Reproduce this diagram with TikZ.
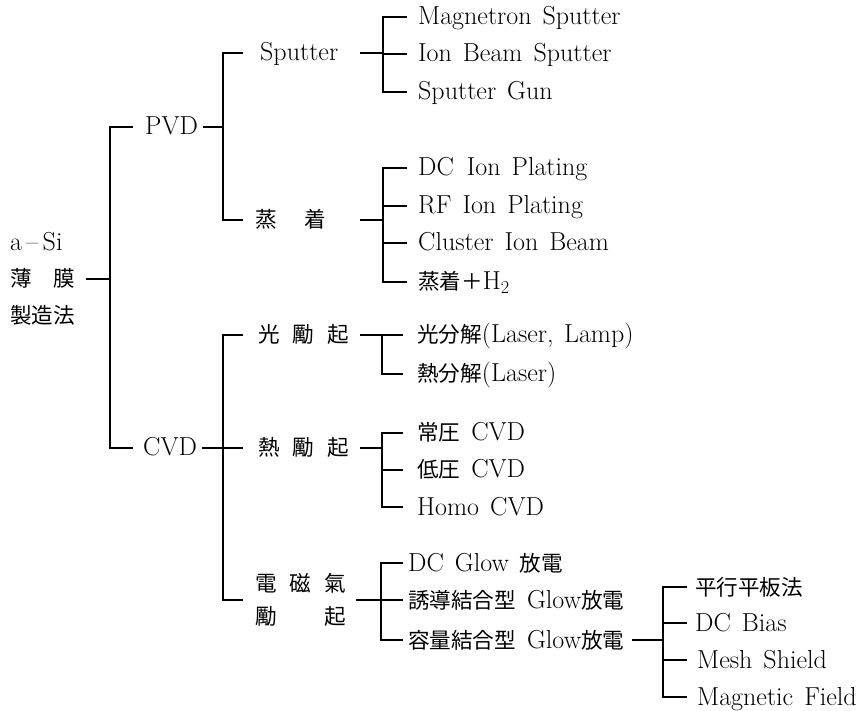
\documentclass[tikz,border=0pt]{standalone}
\usepackage{fontspec}
\newfontfamily\cjkfont{Noto Sans CJK JP}[Scale=0.83]
\newcommand\jp[1]{{\cjkfont #1}}
\newcommand\lblfont{\fontsize{26}{30}\selectfont\spaceskip=11pt\relax}
\begin{document}
\begin{tikzpicture}[x=1pt,y=-1pt,
  lbl/.style={anchor=west,inner sep=0pt,font=\lblfont,text height=16pt,text depth=0pt},
  conn/.style={line width=1.4pt}]
\useasboundingbox (0,0) rectangle (863,711);

% root
\node[lbl] (r1) at (10,243) {a\,\textendash\,Si};
\node[lbl] (r2) at (10,279) {\jp{薄\hspace{1em}膜}};
\node[lbl] (r3) at (10,316) {\jp{製造法}};
\coordinate (t) at (110,0);
\draw[conn] ([xshift=11pt]r2.east) -- (r2.east -| t);

\node[lbl] (pvd) at (145,127) {PVD};
\node[lbl] (cvd) at (143,448) {CVD};
\draw[conn] ([xshift=-12pt]pvd.west) -- (pvd.west -| t) -- (cvd.west -| t) -- ([xshift=-10pt]cvd.west);

% PVD branch
\coordinate (jp) at (223,0);
\node[lbl] (sp) at (260,53) {Sputter};
\node[lbl] (ev) at (255,220) {\jp{蒸\hspace{1.3em}着}};
\draw[conn] ([xshift=5pt]pvd.east) -- (pvd.east -| jp);
\draw[conn] ([xshift=-17pt]sp.west) -- (sp.west -| jp) -- (ev.west -| jp) -- ([xshift=-12pt]ev.west);

% Sputter
\coordinate (js) at (383,0);
\coordinate (ss) at (360,0);
\node[lbl] (ms) at (418,17) {Magnetron Sputter};
\node[lbl] (ib) at (418,54) {Ion Beam Sputter};
\node[lbl] (sg) at (418,92) {Sputter Gun};
\draw[conn] (sp.east -| ss) -- (sp.east -| js);
\draw[conn] ([xshift=-11pt]ms.west) -- (ms.west -| js) -- (sg.west -| js) -- ([xshift=-11pt]sg.west);
\draw[conn] (ib.west -| js) -- ([xshift=-11pt]ib.west);

% evaporation
\node[lbl] (dc) at (418,168) {DC\hspace{0.5em}Ion Plating};
\node[lbl] (rf) at (418,206) {RF Ion Plating};
\node[lbl] (cl) at (418,243) {Cluster Ion Beam};
\node[lbl] (eh) at (418,282) {\jp{蒸着＋}H\textsubscript{2}};
\draw[conn] (ev.east -| ss) -- (ev.east -| js);
\draw[conn] ([xshift=-11pt]dc.west) -- (dc.west -| js) -- (eh.west -| js) -- ([xshift=-11pt]eh.west);
\draw[conn] (rf.west -| js) -- ([xshift=-11pt]rf.west);
\draw[conn] (cl.west -| js) -- ([xshift=-11pt]cl.west);

% CVD branch
\node[lbl] (ko) at (258,335) {\jp{光\hspace{0.6em}勵\hspace{0.6em}起}};
\node[lbl] (th) at (258,448) {\jp{熱\hspace{0.6em}勵\hspace{0.6em}起}};
\node[anchor=west,inner sep=0pt,align=left,font=\fontsize{26}{33}\selectfont] (em) at (255,600)
  {\jp{電\hspace{0.6em}磁\hspace{0.6em}氣}\\\jp{勵\hspace{2.2em}起}};
\draw[conn] ([xshift=5pt]cvd.east) -- ([xshift=-15pt]th.west);
\draw[conn] ([xshift=-15pt]ko.west) -- (ko.west -| jp) -- (em.west -| jp) -- ([xshift=-12pt]em.west);

% photo excitation
\coordinate (jk) at (382,0);
\node[lbl] (k1) at (417,335) {\jp{光分解}(Laser,\hspace{0.4em}Lamp)};
\node[lbl] (k2) at (417,374) {\jp{熱分解}(Laser)};
\draw[conn] ([xshift=11pt]ko.east) -- (ko.east -| jk) -- (k2.west -| jk) -- ([xshift=-14pt]k2.west);
\draw[conn] (ko.east -| jk) -- ([xshift=-14pt]k1.west);

% thermal excitation
\node[lbl] (t1) at (417,433) {\jp{常圧} CVD};
\node[lbl] (t2) at (417,470) {\jp{低圧} CVD};
\node[lbl] (t3) at (417,507) {Homo CVD};
\draw[conn] ([xshift=11pt]th.east) -- (th.east -| jk);
\draw[conn] ([xshift=-14pt]t1.west) -- (t1.west -| jk) -- (t3.west -| jk) -- ([xshift=-14pt]t3.west);
\draw[conn] (t2.west -| jk) -- ([xshift=-14pt]t2.west);

% electromagnetic excitation
\coordinate (jm) at (381,0);
\node[lbl] (g1) at (408,563) {DC Glow \jp{放電}};
\node[lbl] (g2) at (408,600) {\jp{誘導結合型} Glow\jp{放電}};
\node[lbl] (g3) at (408,640) {\jp{容量結合型} Glow\jp{放電}};
\draw[conn] ([xshift=10pt]em.east) -- (em.east -| jm);
\draw[conn] ([xshift=-5pt]g1.west) -- (g1.west -| jm) -- (g3.west -| jm) -- ([xshift=-5pt]g3.west);
\draw[conn] (g2.west -| jm) -- ([xshift=-5pt]g2.west);

% capacitive coupled
\coordinate (jy) at (663,0);
\node[lbl] (p1) at (695,587) {\jp{平行平板法}};
\node[lbl] (db) at (695,623) {DC Bias};
\node[lbl] (msh) at (697,660) {Mesh Shield};
\node[lbl] (mf) at (697,697) {Magnetic Field};
\draw[conn] ([xshift=8pt]g3.east) -- (g3.east -| jy);
\draw[conn] ([xshift=-8pt]p1.west) -- (p1.west -| jy) -- (mf.west -| jy) -- ([xshift=-10pt]mf.west);
\draw[conn] (db.west -| jy) -- ([xshift=-8pt]db.west);
\draw[conn] (msh.west -| jy) -- ([xshift=-10pt]msh.west);
\end{tikzpicture}
\end{document}
